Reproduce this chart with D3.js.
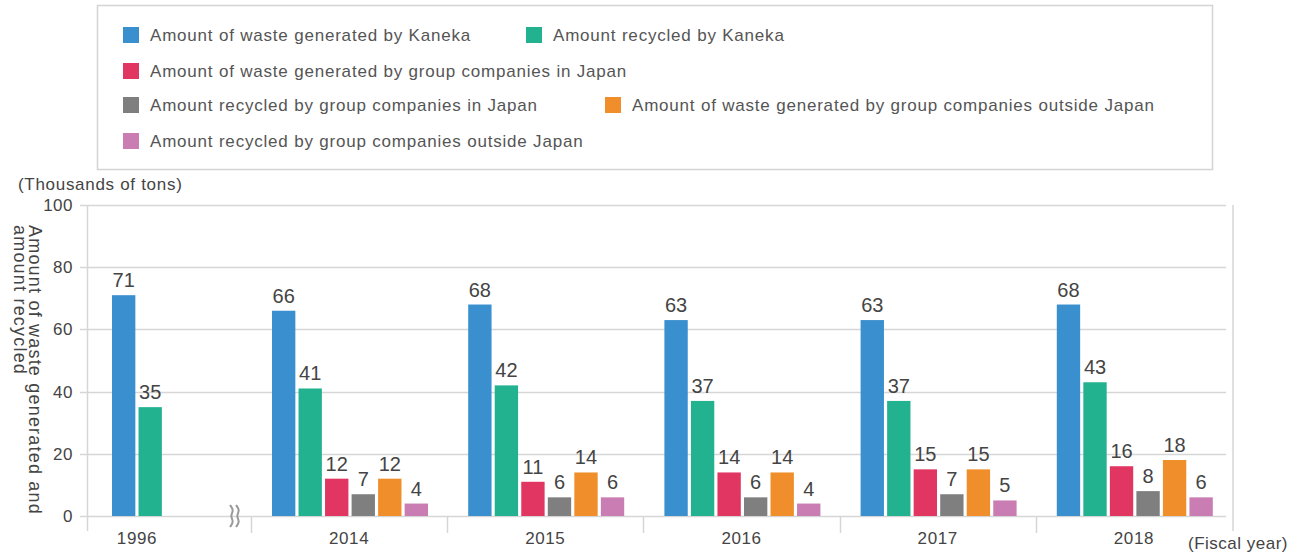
<!DOCTYPE html>
<html>
<head>
<script src="https://d3js.org/d3.v7.min.js"></script>
<style>
  body { margin: 0; background: #fff; }
  text { font-family: "Liberation Sans", Arial, sans-serif; }
</style>
</head>
<body>
<div id="chart"></div>
<script>
var w = 1304, h = 556;

// data
var years = ["1996", "2014", "2015", "2016", "2017", "2018"];
var seriesNames = [
  "Amount of waste generated by Kaneka",
  "Amount recycled by Kaneka",
  "Amount of waste generated by group companies in Japan",
  "Amount recycled by group companies in Japan",
  "Amount of waste generated by group companies outside Japan",
  "Amount recycled by group companies outside Japan"
];
var colors = ["#3a8fcf", "#22b290", "#e13562", "#7f7f7f", "#ef8e2b", "#c97db3"];
var kanekaGenerated   = [71, 66, 68, 63, 63, 68];
var kanekaRecycled    = [35, 41, 42, 37, 37, 43];
var japanGenerated    = [null, 12, 11, 14, 15, 16];
var japanRecycled     = [null, 7, 6, 6, 7, 8];
var overseasGenerated = [null, 12, 14, 14, 15, 18];
var overseasRecycled  = [null, 4, 6, 4, 5, 6];
var yTicks = [0, 20, 40, 60, 80, 100];

var seriesValues = [kanekaGenerated, kanekaRecycled, japanGenerated, japanRecycled, overseasGenerated, overseasRecycled];

var svg = d3.select("#chart").append("svg")
    .attr("width", w)
    .attr("height", h);

// legend box
svg.append("rect")
    .attr("x", 97.5).attr("y", 5.5)
    .attr("width", 1115).attr("height", 164)
    .attr("fill", "#fff")
    .attr("stroke", "#d4d4d4")
    .attr("stroke-width", 1.5);

var legendPos = [[123, 35], [526, 35], [123, 71], [123, 105], [605, 105], [123, 141]];
var legend = svg.append("g").selectAll("g")
    .data(seriesNames)
    .enter().append("g")
    .attr("transform", function(d, i) { return "translate(" + legendPos[i][0] + "," + legendPos[i][1] + ")"; });
legend.append("rect")
    .attr("x", 0).attr("y", -8)
    .attr("width", 16).attr("height", 16)
    .attr("fill", function(d, i) { return colors[i]; });
legend.append("text")
    .attr("x", 27).attr("y", 6)
    .attr("font-size", "17px")
    .attr("letter-spacing", "0.8px")
    .attr("fill", "#555")
    .text(function(d) { return d; });

// scales
var y = d3.scaleLinear().domain([0, 100]).range([516, 205]);

var x = d3.scaleBand().domain(years.slice(1)).range([251, 1232]);
var inner = d3.scaleBand().domain(d3.range(6)).range([21, 177]).paddingInner(0.12);

// the 1996 slot sits between the axis and the break
var firstLeft = 87, firstRight = 251;
function groupX(i) { return i === 0 ? firstLeft + 4 : x(years[i]); }

// grid
svg.append("g").selectAll("line")
    .data(yTicks)
    .enter().append("line")
    .attr("x1", 80).attr("x2", 1226)
    .attr("y1", function(d) { return Math.round(y(d)) + 0.5; })
    .attr("y2", function(d) { return Math.round(y(d)) + 0.5; })
    .attr("stroke", "#d6d6d6")
    .attr("stroke-width", 1.5);

// axis lines
svg.append("line").attr("x1", 87.5).attr("x2", 87.5).attr("y1", 205).attr("y2", 531)
    .attr("stroke", "#d6d6d6").attr("stroke-width", 1.5);
svg.append("line").attr("x1", 1233).attr("x2", 1233).attr("y1", 205).attr("y2", 531)
    .attr("stroke", "#d6d6d6").attr("stroke-width", 1.5);

// category ticks
var dividers = [firstRight].concat(years.slice(2).map(function(d) { return x(d); }));
svg.append("g").selectAll("line")
    .data(dividers)
    .enter().append("line")
    .attr("x1", function(d) { return Math.round(d) + 0.5; })
    .attr("x2", function(d) { return Math.round(d) + 0.5; })
    .attr("y1", 517).attr("y2", 533)
    .attr("stroke", "#d6d6d6").attr("stroke-width", 1.5);

// y tick labels
svg.append("g").selectAll("text")
    .data(yTicks)
    .enter().append("text")
    .attr("x", 73)
    .attr("y", function(d) { return y(d) + 6; })
    .attr("text-anchor", "end")
    .attr("font-size", "17px")
    .attr("letter-spacing", "0.5px")
    .attr("fill", "#444")
    .text(function(d) { return d; });

// bars
var groups = svg.append("g").selectAll("g")
    .data(years)
    .enter().append("g")
    .attr("transform", function(d, i) { return "translate(" + groupX(i) + ",0)"; });

var cells = groups.selectAll("g")
    .data(function(d, i) {
      return seriesValues.map(function(s, k) { return {k: k, v: s[i]}; })
        .filter(function(o) { return o.v != null; });
    })
    .enter().append("g");

cells.append("rect")
    .attr("x", function(d) { return inner(d.k); })
    .attr("y", function(d) { return y(d.v); })
    .attr("width", inner.bandwidth())
    .attr("height", function(d) { return y(0) - y(d.v); })
    .attr("fill", function(d) { return colors[d.k]; });

cells.append("text")
    .attr("x", function(d) { return inner(d.k) + inner.bandwidth() / 2; })
    .attr("y", function(d) { return y(d.v) - 8; })
    .attr("text-anchor", "middle")
    .attr("font-size", "20px")
    .attr("fill", "#444")
    .text(function(d) { return d.v; });

// x labels
svg.append("g").selectAll("text")
    .data(years)
    .enter().append("text")
    .attr("x", function(d, i) {
      if (i === 0) return groupX(0) + (inner(0) + inner(1) + inner.bandwidth()) / 2;
      return x(d) + x.bandwidth() / 2;
    })
    .attr("y", 544)
    .attr("text-anchor", "middle")
    .attr("font-size", "17px")
    .attr("letter-spacing", "0.6px")
    .attr("fill", "#444")
    .text(function(d) { return d; });

// axis break mark: two wavy strokes
var wave = d3.line().curve(d3.curveBasis);
[231, 237].forEach(function(cx) {
  var pts = [];
  for (var k = 0; k <= 4; k++) pts.push([cx + (k % 2 ? 3 : -1), 505 + k * 5.5]);
  svg.append("path")
    .attr("d", wave(pts))
    .attr("fill", "none")
    .attr("stroke", "#999")
    .attr("stroke-width", 2);
});

// titles
svg.append("text")
    .attr("x", 18).attr("y", 190)
    .attr("font-size", "17px")
    .attr("letter-spacing", "0.7px")
    .attr("fill", "#444")
    .text("(Thousands of tons)");

svg.append("text")
    .attr("x", 1188).attr("y", 549)
    .attr("font-size", "17px")
    .attr("letter-spacing", "0.5px")
    .attr("fill", "#444")
    .text("(Fiscal year)");

var ytitle = svg.append("text")
    .attr("transform", "translate(29,225) rotate(90)")
    .attr("font-size", "18px")
    .attr("letter-spacing", "1.2px")
    .attr("fill", "#444");
ytitle.append("tspan").attr("x", 0).attr("y", 0).text("Amount of waste generated and");
ytitle.append("tspan").attr("x", 0).attr("dy", 15).text("amount recycled");
</script>
</body>
</html>
